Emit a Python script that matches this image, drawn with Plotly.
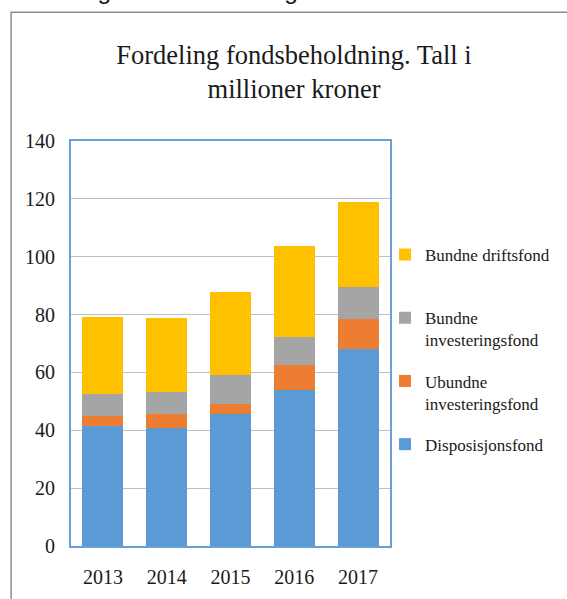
import plotly.graph_objects as go

years = ["2013", "2014", "2015", "2016", "2017"]
disposisjonsfond = [41.4, 40.8, 45.8, 53.9, 68.0]
ubundne_invest = [3.7, 4.9, 3.2, 8.6, 10.3]
bundne_invest = [7.6, 7.6, 10.2, 9.6, 11.3]
bundne_drift = [26.5, 25.5, 28.7, 31.6, 29.3]

series_names = [
    "Disposisjonsfond",
    "Ubundne<br>investeringsfond",
    "Bundne<br>investeringsfond",
    "Bundne driftsfond<br> ",
]
series_values = [disposisjonsfond, ubundne_invest, bundne_invest, bundne_drift]
series_colors = ["#5B9BD5", "#ED7D31", "#A5A5A5", "#FFC000"]

W, H = 567, 599
L, R, T, B = 71, 175, 141, 53
pw, ph = W - L - R, H - T - B

def px_x(p):
    return (p - L) / pw

def px_y(p):
    return (H - B - p) / ph

fig = go.Figure()
n = len(series_names)
for i, (name, vals, col) in enumerate(zip(series_names, series_values, series_colors)):
    fig.add_trace(go.Bar(
        x=years, y=vals, name=name, legendgroup=f"g{i}",
        legendrank=n - i,
        marker=dict(color=col, line=dict(width=0)),
    ))

serif = "Liberation Serif, Times New Roman, serif"

fig.update_layout(
    width=W, height=H,
    margin=dict(l=L, r=R, t=T, b=B, pad=0),
    barmode="stack",
    bargap=0.36,
    paper_bgcolor="white",
    plot_bgcolor="white",
    font=dict(family=serif, color="#1a1a1a"),
    title=dict(
        text="Fordeling fondsbeholdning. Tall i<br>millioner kroner",
        font=dict(family=serif, size=26.5, color="#1a1a1a"),
        x=294 / W, xanchor="center", xref="container",
        y=1 - 64 / H, yanchor="middle", yref="container",
    ),
    legend=dict(
        x=px_x(387), xanchor="left",
        y=px_y(237), yanchor="top",
        traceorder="grouped",
        tracegroupgap=16,
        valign="top",
        font=dict(family=serif, size=17, color="#1a1a1a"),
        bgcolor="rgba(0,0,0,0)",
    ),
    showlegend=True,
)

fig.update_yaxes(
    range=[0, 140], dtick=20,
    showgrid=True, gridcolor="#bfbfbf", gridwidth=1,
    zeroline=False,
    showline=True, linecolor="#6a9fd8", linewidth=2, mirror=True,
    ticks="", ticklabelstandoff=10,
    tickfont=dict(family=serif, size=20, color="#1a1a1a"),
)
fig.update_xaxes(
    showgrid=False, zeroline=False,
    showline=True, linecolor="#6a9fd8", linewidth=2, mirror=True,
    ticks="", ticklabelstandoff=12,
    tickfont=dict(family=serif, size=20, color="#1a1a1a"),
)

# outer frame of the embedded chart
fig.add_shape(
    type="path", xref="paper", yref="paper",
    path=f"M {px_x(10.7)} {px_y(620)} L {px_x(10.7)} {px_y(12.3)} L {px_x(620)} {px_y(12.3)}",
    line=dict(color="#8e8e8e", width=1.5),
)

# heading of the page, cut off at the top
fig.add_annotation(
    text="Fordeling fondsbeholdning",
    xref="paper", yref="paper",
    x=px_x(7), y=px_y(-9.5), xanchor="left", yanchor="middle",
    showarrow=False,
    font=dict(family="Liberation Sans, Arial, sans-serif", size=24.5, color="#111111"),
)

fig.write_html(
    "out.html",
    config={"displayModeBar": False},
    post_script="document.body.style.margin='0';document.body.style.overflow='hidden';",
)
